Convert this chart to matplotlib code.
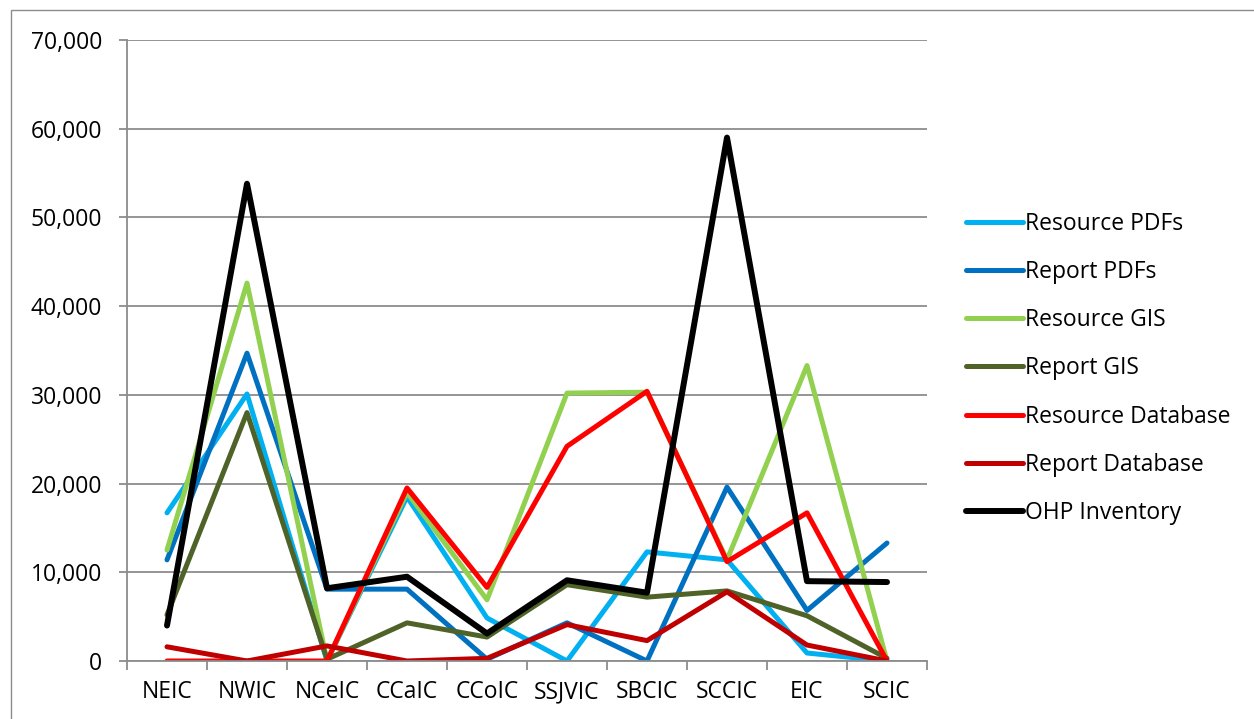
import numpy as np
import matplotlib.pyplot as plt
from matplotlib.ticker import FuncFormatter
from matplotlib.patches import Rectangle

plt.rcParams['font.family'] = ['Open Sans', 'DejaVu Sans']

# info centers along the x axis
centers = ["NEIC", "NWIC", "NCeIC", "CCaIC", "CCoIC", "SSJVIC", "SBCIC", "SCCIC", "EIC", "SCIC"]

resource_pdfs = [16700, 30100, 0, 18500, 4850, 0, 12300, 11400, 900, 0]
report_pdfs = [11400, 34700, 8100, 8100, 200, 4300, 0, 19600, 5700, 13300]
resource_gis = [12500, 42600, 0, 19000, 6900, 30200, 30300, 11400, 33300, 0]
report_gis = [5200, 28000, 200, 4300, 2700, 8600, 7200, 7900, 5100, 300]
resource_db = [0, 0, 0, 19500, 8300, 24200, 30400, 11200, 16700, 0]
report_db = [1600, 0, 1700, 0, 300, 4100, 2300, 7800, 1800, 0]
ohp_inventory = [4000, 53800, 8200, 9500, 3100, 9100, 7700, 59000, 9000, 8900]

series = [
    ("Resource PDFs", resource_pdfs, "#00B0F0"),
    ("Report PDFs", report_pdfs, "#0070C0"),
    ("Resource GIS", resource_gis, "#92D050"),
    ("Report GIS", report_gis, "#4F6228"),
    ("Resource Database", resource_db, "#FF0000"),
    ("Report Database", report_db, "#C00000"),
    ("OHP Inventory", ohp_inventory, "#000000"),
]

fig = plt.figure(figsize=(12.54, 7.19), dpi=100)
ax = fig.add_axes([127/1254, 58/719, 800/1254, 621/719])

x = np.arange(len(centers))
for name, vals, col in series:
    lw = 4.3 if name == "OHP Inventory" else 3.6
    ax.plot(x, vals, color=col, lw=lw, label=name, solid_capstyle='round', solid_joinstyle='round')

ax.set_xlim(-0.5, len(centers) - 0.5)
ax.set_ylim(0, 70000)
ax.set_yticks(np.arange(0, 70001, 10000))
ax.yaxis.set_major_formatter(FuncFormatter(lambda v, p: f"{int(v):,}"))
ax.grid(axis='y', color='#8c8c8c', lw=1.3)
ax.set_axisbelow(True)

ax.set_xticks(x)
ax.set_xticklabels(centers)
ax.set_xticks(np.arange(-0.5, len(centers)), minor=True)
ax.tick_params(axis='x', which='major', length=0, pad=14, labelsize=16.5)
ax.tick_params(axis='x', which='minor', length=6.5, color='#8c8c8c', width=1.3)
ax.tick_params(axis='y', length=6, color='#8c8c8c', width=1.3, labelsize=16.5, pad=12)

for s in ['top', 'right']:
    ax.spines[s].set_visible(False)
for s in ['left', 'bottom']:
    ax.spines[s].set_color('#8c8c8c')
    ax.spines[s].set_linewidth(1.3)

fig.legend(loc='center left', bbox_to_anchor=(945/1254, 0.4875), frameon=False,
           fontsize=16.5, handlelength=2.5, handletextpad=0.1, labelspacing=1.06)

# thin outer chart border
fig.patches.append(Rectangle((11/1254, -0.05), 1.1, 1 - 10/719 + 0.05, transform=fig.transFigure,
                             fill=False, edgecolor='#8c8c8c', lw=1.0))

fig.savefig("out.png", dpi=100)
